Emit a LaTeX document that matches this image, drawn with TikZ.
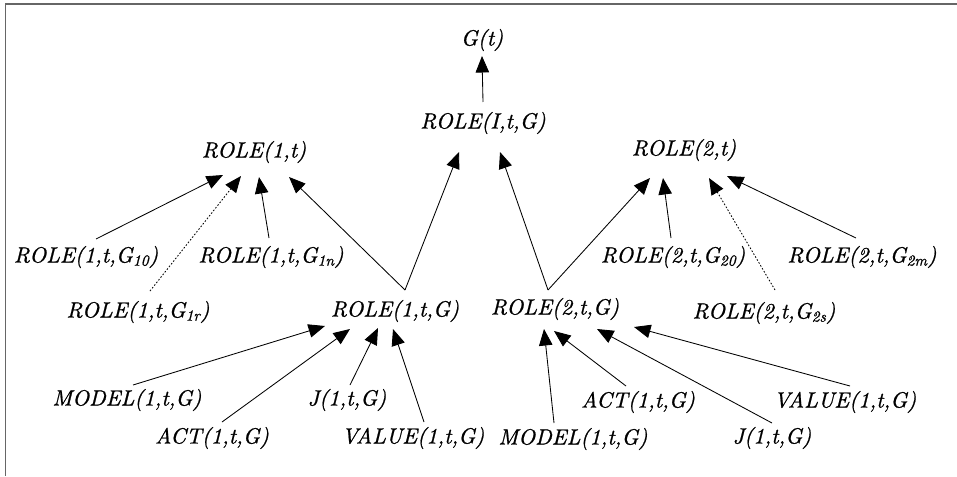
\documentclass[tikz,border=0pt]{standalone}
\usepackage{fontspec}
\usetikzlibrary{arrows.meta}
\newfontfamily\lblfont[FakeBold=0.9]{lmroman10-italic.otf}
\begin{document}
\begin{tikzpicture}[x=1pt,y=-1pt,
  lbl/.style={inner sep=0pt,font=\fontsize{22}{26}\lblfont},
  link/.style={line width=0.85pt,-{Triangle[length=16.5pt,width=13.5pt]}},
  weak/.style={link,dash pattern=on 1.6pt off 1.8pt},
  frame/.style={line width=1.4pt,draw=black!60}]
\useasboundingbox (0,0) rectangle (957,476);
% partial frame: top and left edges
\draw[frame] (957,4) -- (5.5,4) -- (5.5,476);

% top levels
\node[lbl] (gt) at (482,40) {G(t)};
\node[lbl] (rI) at (483,123) {ROLE(I,t,G)};
\node[lbl] (r1) at (254,152) {ROLE(1,t)};
\node[lbl] (r2) at (684,150) {ROLE(2,t)};

% role instances
\node[lbl] (r10) at (86,257) {ROLE(1,t,G\textsubscript{10})};
\node[lbl] (r1n) at (271,257) {ROLE(1,t,G\textsubscript{1n})};
\node[lbl] (r1r) at (138,312) {ROLE(1,t,G\textsubscript{1r})};
\node[lbl] (r1g) at (395,311) {ROLE(1,t,G)};
\node[lbl] (r2g) at (555,309) {ROLE(2,t,G)};
\node[lbl] (r20) at (673,257) {ROLE(2,t,G\textsubscript{20})};
\node[lbl] (r2m) at (862,257) {ROLE(2,t,G\textsubscript{2m})};
\node[lbl] (r2s) at (764,313) {ROLE(2,t,G\textsubscript{2s})};

% components of role 1
\node[lbl] (m1) at (127,400) {MODEL(1,t,G)};
\node[lbl] (a1) at (212,438) {ACT(1,t,G)};
\node[lbl] (j1) at (347,400) {J(1,t,G)};
\node[lbl] (v1) at (413,438) {VALUE(1,t,G)};

% components of role 2
\node[lbl] (m2) at (573,439) {MODEL(1,t,G)};
\node[lbl] (a2) at (638,402) {ACT(1,t,G)};
\node[lbl] (j2) at (772,438) {J(1,t,G)};
\node[lbl] (v2) at (845,402) {VALUE(1,t,G)};

% connectors
\draw[link] ([shift={(0,-21)}]rI.center) -- ([shift={(0,16)}]gt.center);
\draw[link] ([shift={(10,-21)}]r1g.center) -- ([shift={(35,25)}]r1.center);
\draw[link] ([shift={(10,-21)}]r1g.center) -- ([shift={(-24,29)}]rI.center);
\draw[link] ([shift={(-7,-19)}]r2g.center) -- ([shift={(17,29)}]rI.center);
\draw[link] ([shift={(-7,-19)}]r2g.center) -- ([shift={(-34,28)}]r2.center);

\draw[link] ([shift={(10,-18)}]r10.center) -- ([shift={(-31,23)}]r1.center);
\draw[weak] ([shift={(12,-21)}]r1r.center) -- ([shift={(-13,24)}]r1.center);
\draw[link] ([shift={(-2,-19)}]r1n.center) -- ([shift={(5,25)}]r1.center);

\draw[link] ([shift={(-2,-19)}]r20.center) -- ([shift={(-21,28)}]r2.center);
\draw[weak] ([shift={(11,-23)}]r2s.center) -- ([shift={(25,28)}]r2.center);
\draw[link] ([shift={(-6,-19)}]r2m.center) -- ([shift={(43,26)}]r2.center);

\draw[link] ([shift={(6,-15)}]m1.center) -- ([shift={(-70,15)}]r1g.center);
\draw[link] ([shift={(10,-16)}]a1.center) -- ([shift={(-45,18)}]r1g.center);
\draw[link] ([shift={(3,-15)}]j1.center) -- ([shift={(-17,17)}]r1g.center);
\draw[link] ([shift={(11,-16)}]v1.center) -- ([shift={(-2,18)}]r1g.center);

\draw[link] ([shift={(-19,-16)}]m2.center) -- ([shift={(-11,20)}]r2g.center);
\draw[link] ([shift={(-12,-16)}]a2.center) -- ([shift={(-1,22)}]r2g.center);
\draw[link] ([shift={(0,-15)}]j2.center) -- ([shift={(42,20)}]r2g.center);
\draw[link] ([shift={(5,-16)}]v2.center) -- ([shift={(79,18)}]r2g.center);
\end{tikzpicture}
\end{document}
